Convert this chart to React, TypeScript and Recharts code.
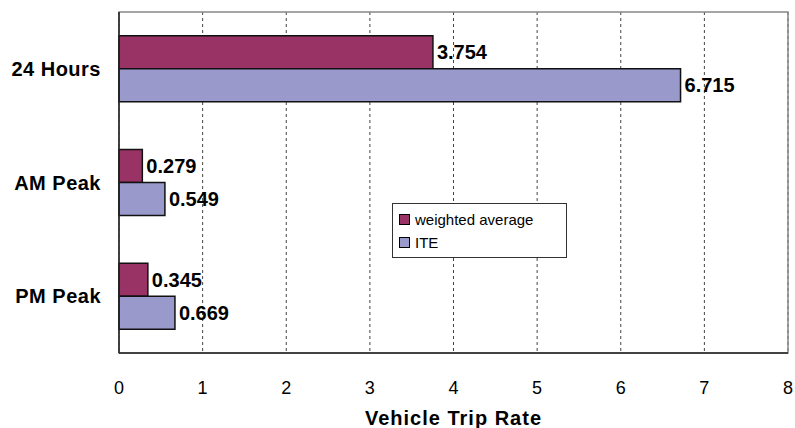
import { BarChart, Bar, XAxis, YAxis, CartesianGrid, LabelList, ReferenceArea } from 'recharts'

const categories = ['24 Hours', 'AM Peak', 'PM Peak']
const weightedAverage = [3.754, 0.279, 0.345]
const iteRates = [6.715, 0.549, 0.669]
const xTicks = [0, 1, 2, 3, 4, 5, 6, 7, 8]

const WEIGHTED_COLOR = '#993366'
const ITE_COLOR = '#9999cc'
const FONT = '"Liberation Sans", Arial, sans-serif'

const data = categories.map((name, i) => ({
  name,
  weighted: weightedAverage[i],
  ite: iteRates[i],
}))

const legendItems = [
  { label: 'weighted average', color: WEIGHTED_COLOR },
  { label: 'ITE', color: ITE_COLOR },
]

const valueLabelStyle = { fill: '#000', fontSize: 20, fontWeight: 'bold', fontFamily: FONT }

function LegendBox() {
  return (
    <div
      style={{
        position: 'absolute',
        left: 392,
        top: 203,
        width: 175,
        height: 55,
        border: '1px solid #333',
        background: '#fff',
        boxSizing: 'border-box',
        padding: '4px 0 0 6px',
        fontFamily: FONT,
        fontSize: 15,
        color: '#000',
      }}
    >
      {legendItems.map((item) => (
        <div key={item.label} style={{ display: 'flex', alignItems: 'center', height: 23 }}>
          <div
            style={{
              width: 9,
              height: 9,
              background: item.color,
              border: '1px solid #000',
              marginRight: 5,
            }}
          />
          <span>{item.label}</span>
        </div>
      ))}
    </div>
  )
}

export default function App() {
  return (
    <div style={{ position: 'absolute', left: 0, top: 0, width: 795, height: 428, background: '#fff' }}>
      <BarChart
        width={795}
        height={428}
        data={data}
        layout="vertical"
        margin={{ top: 12, right: 7, left: 0, bottom: 0 }}
        barCategoryGap="21%"
        barGap={0}
      >
        <CartesianGrid horizontal={false} strokeDasharray="3 3" stroke="#444" />
        <ReferenceArea x1={0} x2={8} fill="none" stroke="#888" strokeWidth={1.5} />
        <XAxis
          type="number"
          domain={[0, 8]}
          ticks={xTicks}
          height={75}
          tickLine={false}
          axisLine={{ stroke: '#222', strokeWidth: 1.5 }}
          tick={{ fill: '#000', fontSize: 18, fontFamily: FONT }}
          tickMargin={22}
          label={{
            value: 'Vehicle Trip Rate',
            position: 'insideBottom',
            offset: 3,
            style: { fill: '#000', fontSize: 20, fontWeight: 'bold', fontFamily: FONT, letterSpacing: 1 },
          }}
        />
        <YAxis
          type="category"
          dataKey="name"
          width={119}
          tickLine={false}
          axisLine={{ stroke: '#222', strokeWidth: 1.5 }}
          tick={{ fill: '#000', fontSize: 20, fontWeight: 'bold', fontFamily: FONT, letterSpacing: 0.5 }}
          tickMargin={12}
        />
        <Bar dataKey="weighted" fill={WEIGHTED_COLOR} stroke="#111" strokeWidth={1.5} isAnimationActive={false}>
          <LabelList
            dataKey="weighted"
            position="right"
            offset={4}
            formatter={(v: number) => v.toFixed(3)}
            style={valueLabelStyle}
          />
        </Bar>
        <Bar dataKey="ite" fill={ITE_COLOR} stroke="#111" strokeWidth={1.5} isAnimationActive={false}>
          <LabelList
            dataKey="ite"
            position="right"
            offset={4}
            formatter={(v: number) => v.toFixed(3)}
            style={valueLabelStyle}
          />
        </Bar>
      </BarChart>
      <LegendBox />
    </div>
  )
}
